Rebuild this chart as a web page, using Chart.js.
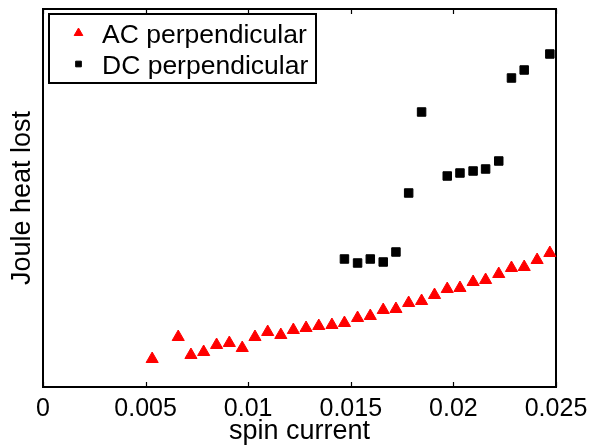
<!DOCTYPE html>
<html>
<head>
<meta charset="utf-8">
<script src="https://cdn.jsdelivr.net/npm/chart.js@4/dist/chart.umd.min.js"></script>
<style>
  html, body { margin: 0; padding: 0; background: #fff; }
  #wrap { width: 605px; height: 446px; }
</style>
</head>
<body>
<div id="wrap"><canvas id="c" width="605" height="446"></canvas></div>
<script>
// ---- data ----
const acX = [0.00532, 0.00659, 0.00721, 0.00783, 0.00846, 0.00908, 0.00971, 0.01033, 0.01095, 0.01159,
             0.01220, 0.01282, 0.01344, 0.01408, 0.01469, 0.01533, 0.01595, 0.01658, 0.01720, 0.01782,
             0.01845, 0.01908, 0.01970, 0.02032, 0.02096, 0.02157, 0.02221, 0.02283, 0.02345, 0.02408, 0.02470];
const acY = [28, 50, 32, 35, 42, 44, 39, 50, 55, 52,
             57, 59, 61, 62, 64, 69, 71, 77, 78, 84,
             86, 92, 98, 99, 105, 107, 113, 119, 120, 127, 134];
const dcX = [0.01469, 0.01533, 0.01595, 0.01658, 0.01720, 0.01782, 0.01845, 0.01970, 0.02032, 0.02096,
             0.02157, 0.02221, 0.02283, 0.02345, 0.02470];
const dcY = [128, 124, 128, 125, 135, 194, 275, 211, 214, 216,
             218, 226, 309, 317, 333];
const xTickValues = [0, 0.005, 0.01, 0.015, 0.02, 0.025];
const xTickLabels = ['0', '0.005', '0.01', '0.015', '0.02', '0.025'];
const seriesNames = ['AC perpendicular', 'DC perpendicular'];
const yRange = [0, 378];

const FONT = '"Liberation Sans", Arial, Helvetica, sans-serif';
Chart.defaults.font.family = FONT;
Chart.defaults.color = '#000';

const toPts = (xs, ys) => xs.map((x, i) => ({ x: x, y: ys[i] }));

const framePlugin = {
  id: 'frame',
  beforeDatasetsDraw(chart) {
    const { ctx, chartArea: a, scales } = chart;
    ctx.save();
    ctx.strokeStyle = '#000';
    ctx.lineWidth = 2;
    ctx.strokeRect(a.left, a.top, a.right - a.left, a.bottom - a.top);
    ctx.beginPath();
    xTickValues.forEach(v => {
      const px = Math.round(scales.x.getPixelForValue(v)) + 0.5;
      ctx.moveTo(px, a.bottom); ctx.lineTo(px, a.bottom - 5);
      ctx.moveTo(px, a.top); ctx.lineTo(px, a.top + 5);
    });
    ctx.lineWidth = 1.2;
    ctx.stroke();
    ctx.restore();
  },
  afterDraw(chart) {
    const { ctx } = chart;
    ctx.save();
    const bx = 49, by = 14, bw = 267, bh = 69;
    ctx.fillStyle = '#fff';
    ctx.fillRect(bx, by, bw, bh);
    ctx.strokeStyle = '#000';
    ctx.lineWidth = 2;
    ctx.strokeRect(bx, by, bw, bh);
    const ds = chart.data.datasets;
    const rows = [{ y: 33, base: 43, r: 5 }, { y: 64, base: 74, r: 4 }];
    ds.forEach((d, i) => {
      const row = rows[i];
      ctx.fillStyle = d.backgroundColor;
      ctx.strokeStyle = d.borderColor;
      ctx.lineWidth = 1;
      Chart.helpers.drawPoint(ctx, { pointStyle: d.pointStyle, radius: row.r, rotation: 0, borderWidth: 1 }, 78.5, row.y);
      ctx.fillStyle = '#000';
      ctx.font = '26.5px ' + FONT;
      ctx.textBaseline = 'alphabetic';
      ctx.textAlign = 'left';
      ctx.fillText(d.label, 102, row.base);
    });
    ctx.restore();
  }
};

new Chart(document.getElementById('c'), {
  type: 'scatter',
  data: {
    datasets: [
      {
        label: seriesNames[0],
        data: toPts(acX, acY),
        pointStyle: 'triangle',
        backgroundColor: '#ff0000',
        borderColor: '#ff0000',
        borderWidth: 1,
        pointRadius: 7,
        pointHoverRadius: 7
      },
      {
        label: seriesNames[1],
        data: toPts(dcX, dcY),
        pointStyle: 'rect',
        backgroundColor: '#000000',
        borderColor: '#000000',
        borderWidth: 1,
        pointRadius: 6,
        pointHoverRadius: 6
      }
    ]
  },
  options: {
    responsive: false,
    animation: false,
    events: [],
    clip: false,
    layout: { padding: { top: 9, right: 49, left: 0, bottom: 0 } },
    plugins: { legend: { display: false }, tooltip: { enabled: false } },
    scales: {
      x: {
        type: 'linear',
        min: 0, max: 0.025,
        afterBuildTicks: s => { s.ticks = xTickValues.map(v => ({ value: v })); },
        afterFit: s => { s.height = 59; },
        grid: { display: false, drawTicks: false },
        border: { display: false },
        ticks: {
          padding: 7,
          maxRotation: 0,
          autoSkip: false,
          font: { size: 25 },
          color: '#000',
          callback: (v, i) => xTickLabels[i]
        },
        title: {
          display: true,
          text: 'spin current',
          font: { size: 27, lineHeight: 1 },
          color: '#000',
          padding: { top: 0, bottom: 1 }
        }
      },
      y: {
        type: 'linear',
        min: yRange[0], max: yRange[1],
        afterFit: s => { s.width = 43; },
        grid: { display: false, drawTicks: false },
        border: { display: false },
        ticks: { display: false },
        title: {
          display: true,
          text: 'Joule heat lost',
          font: { size: 27, lineHeight: 1 },
          color: '#000',
          padding: { top: 9, bottom: 0 }
        }
      }
    }
  },
  plugins: [framePlugin]
});
</script>
</body>
</html>
